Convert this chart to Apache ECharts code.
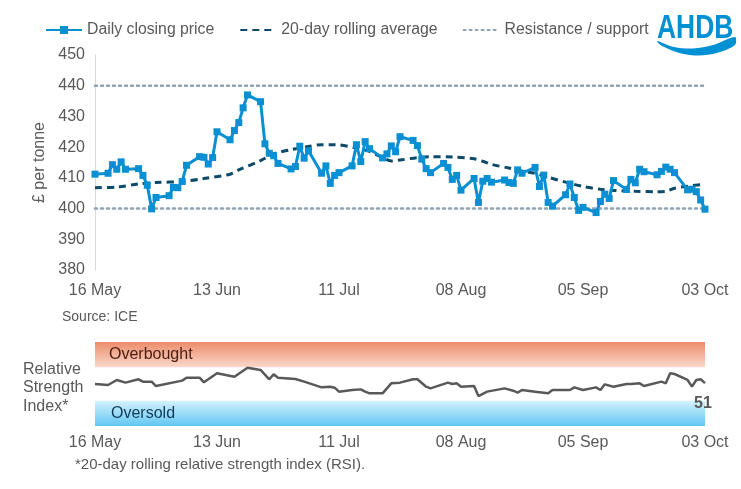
<!DOCTYPE html>
<html>
<head>
<meta charset="utf-8">
<script src="https://cdn.jsdelivr.net/npm/echarts@6/dist/echarts.min.js"></script>
<style>
html,body{margin:0;padding:0;background:#fff;}
#c{width:741px;height:489px;}
</style>
</head>
<body>
<div id="c"></div>
<script>
const YEAR = 2025;
const startDate = '05-16';
const tickLabels = ['16 May', '13 Jun', '11 Jul', '08 Aug', '05 Sep', '03 Oct'];

const priceDates = [
'05-16',
'05-19','05-20','05-21','05-22','05-23',
'05-26','05-27','05-28','05-29','05-30',
'06-02','06-03','06-04','06-05','06-06',
'06-09','06-10','06-11','06-12','06-13',
'06-16','06-17','06-18','06-19','06-20',
'06-23','06-24','06-25','06-26','06-27',
'06-30','07-01','07-02','07-03','07-04',
'07-07','07-08','07-09','07-10','07-11',
'07-14','07-15','07-16','07-17','07-18',
'07-21','07-22','07-23','07-24','07-25',
'07-28','07-29','07-30','07-31','08-01',
'08-04','08-05','08-06','08-07','08-08',
'08-11','08-12','08-13','08-14','08-15',
'08-18','08-19','08-20','08-21','08-22',
'08-25','08-26','08-27','08-28','08-29',
'09-01','09-02','09-03','09-04','09-05',
'09-08','09-09','09-10','09-11','09-12',
'09-15','09-16','09-17','09-18','09-19',
'09-22','09-23','09-24','09-25','09-26',
'09-29','09-30','10-01','10-02','10-03'
];
const prices = [
411.2,
411.5,414.3,412.8,415.2,412.8,
413.0,410.8,407.6,399.9,403.6,
404.2,406.9,406.8,408.8,414.1,
416.9,416.7,414.5,416.6,425.0,
422.4,425.4,428.0,432.8,437.0,
434.8,421.1,418.0,417.2,414.7,
412.9,413.7,420.3,416.4,418.8,
411.5,413.9,408.2,410.8,411.7,
413.9,420.8,415.3,421.8,419.5,
416.5,417.8,420.4,418.5,423.4,
422.2,420.5,416.1,413.0,411.7,
414.7,413.4,409.5,410.8,406.0,
409.8,402.0,408.9,409.8,408.6,
409.3,408.5,408.2,412.6,411.5,
413.4,407.2,410.9,402.0,400.8,
404.5,408.0,403.6,399.4,400.4,
398.7,402.3,404.7,403.3,409.1,
406.2,409.5,408.4,412.8,412.0,
411.0,412.1,413.5,412.8,411.7,
406.1,406.3,405.5,402.8,399.8
];

const avgDates = ['05-16','05-21','05-26','05-30','06-05','06-10','06-16','06-18','06-23','06-26','06-30','07-04','07-07','07-10','07-15','07-18','07-21','07-23','07-25','07-29','08-01','08-06','08-11','08-13','08-15','08-19','08-22','08-25','08-28','09-01','09-05','09-09','09-12','09-17','09-22','09-24','09-26','09-29','10-03'];
const avgValues = [406.8,407.0,408.0,408.5,408.8,409.8,411.2,412.6,415.6,417.8,419.2,420.2,420.8,420.8,419.7,418.6,416.6,415.5,415.8,416.6,416.9,416.8,416.2,415.4,414.4,413.2,412.2,411.5,410.2,408.6,407.2,406.3,405.9,405.6,405.5,405.6,406.6,407.3,407.9];

const resistance = 440;
const support = 400;

const rsiDates = ['05-16','05-19','05-21','05-23','05-26','05-27','05-29','05-30','06-05','06-06','06-09','06-10','06-13','06-17','06-20','06-23','06-25','06-26','06-27','07-01','07-03','07-07','07-09','07-10','07-11','07-14','07-16','07-17','07-18','07-21','07-23','07-25','07-28','07-29','07-31','08-01','08-05','08-06','08-07','08-08','08-11','08-12','08-14','08-18','08-20','08-21','08-22','08-25','08-28','08-29','09-02','09-03','09-05','09-08','09-09','09-10','09-12','09-15','09-16','09-18','09-19','09-23','09-24','09-25','09-26','09-29','09-30','10-01','10-02','10-03'];
const rsiValues = [50.0,48.8,54.8,51.6,55.6,52.8,52.8,47.6,54.0,57.5,57.5,52.0,62.7,58.7,69.4,66.7,55.6,61.5,57.5,56.0,52.8,46.0,46.8,45.6,40.9,42.8,43.6,40.9,38.9,38.9,50.8,51.6,55.6,55.6,46.8,44.8,51.6,50.0,50.8,46.8,47.6,35.7,40.9,44.8,42.0,39.7,42.8,40.9,38.9,42.8,42.8,46.0,42.8,46.0,42.8,49.6,46.8,50.0,50.0,50.8,47.6,52.8,50.8,62.7,61.9,54.8,46.8,54.8,55.6,51.0];
const overbought = [70, 100];
const oversold = [0, 30];

function dayOf(md) {
  const [m, d] = md.split('-').map(Number);
  const [m0, d0] = startDate.split('-').map(Number);
  return Math.round((Date.UTC(YEAR, m - 1, d) - Date.UTC(YEAR, m0 - 1, d0)) / 86400000);
}
const pair = (dates, vals) => dates.map((d, i) => [dayOf(d), vals[i]]);
const lastDay = dayOf('10-03');

const FONT = "'Liberation Sans', Arial, sans-serif";
const GREY = '#595959';
const grad = (top, bottom) => ({type: 'linear', x: 0, y: 0, x2: 0, y2: 1,
  colorStops: [{offset: 0, color: top}, {offset: 1, color: bottom}]});

const chart = echarts.init(document.getElementById('c'));
function xAxisFor(gi, margin) {
  return {
    gridIndex: gi, type: 'value', min: 0, max: lastDay, interval: 28,
    axisLine: {show: false}, axisTick: {show: false}, splitLine: {show: false},
    axisLabel: {color: GREY, fontSize: 16, fontFamily: FONT, margin: margin,
      formatter: v => tickLabels[Math.round(v / 28)] || ''}
  };
}
const rsiData = pair(rsiDates, rsiValues);
const lastRsi = rsiData[rsiData.length - 1];

chart.setOption({
  animation: false,
  textStyle: {fontFamily: FONT},
  legend: {
    left: 45, top: 22, padding: 0, itemWidth: 36, itemHeight: 10, itemGap: 25,
    textStyle: {color: GREY, fontSize: 15.8, fontFamily: FONT},
    data: [
      {name: 'Daily closing price'},
      {name: '20-day rolling average', itemStyle: {opacity: 0}},
      {name: 'Resistance / support', itemStyle: {opacity: 0}}
    ]
  },
  grid: [
    {left: 95, right: 36, top: 55, height: 215},
    {left: 95, right: 36, top: 342, height: 84}
  ],
  xAxis: [xAxisFor(0, 13), xAxisFor(1, 9)],
  yAxis: [
    {gridIndex: 0, type: 'value', min: 380, max: 450, interval: 10,
     name: '£ per tonne', nameLocation: 'middle', nameGap: 45,
     nameTextStyle: {color: GREY, fontSize: 16, fontFamily: FONT},
     axisLine: {show: true, lineStyle: {color: '#D9D9D9', width: 1}},
     axisTick: {show: false}, splitLine: {show: false},
     axisLabel: {color: GREY, fontSize: 16, fontFamily: FONT, margin: 10}},
    {gridIndex: 1, type: 'value', min: 0, max: 100, show: false, splitLine: {show: false}}
  ],
  series: [
    {name: 'Resistance / support', type: 'line', xAxisIndex: 0, yAxisIndex: 0,
     data: [[0, resistance], [lastDay, resistance]], symbol: 'none', silent: true,
     lineStyle: {color: '#8EA4B2', width: 2.5, type: [2, 4], cap: 'round'}, itemStyle: {color: '#8EA4B2'}},
    {name: 'Resistance / support', type: 'line', xAxisIndex: 0, yAxisIndex: 0,
     data: [[0, support], [lastDay, support]], symbol: 'none', silent: true,
     lineStyle: {color: '#8EA4B2', width: 2.5, type: [2, 4], cap: 'round'}, itemStyle: {color: '#8EA4B2'}},
    {name: '20-day rolling average', type: 'line', xAxisIndex: 0, yAxisIndex: 0,
     data: pair(avgDates, avgValues), symbol: 'none', smooth: 0.3,
     lineStyle: {color: '#0C4A6A', width: 3, type: [7, 5]}, itemStyle: {color: '#0C4A6A'}},
    {name: 'Daily closing price', type: 'line', xAxisIndex: 0, yAxisIndex: 0,
     data: pair(priceDates, prices), symbol: 'rect', symbolSize: 7,
     lineStyle: {color: '#0A8FD2', width: 3}, itemStyle: {color: '#0A8FD2'}},
    {name: 'RSI', type: 'line', xAxisIndex: 1, yAxisIndex: 1,
     data: rsiData, symbol: 'none',
     lineStyle: {color: '#595959', width: 2.5}, itemStyle: {color: '#595959'},
     markPoint: {silent: true, symbol: 'circle', symbolSize: 0,
       data: [{coord: lastRsi, value: Math.round(lastRsi[1])}],
       label: {show: true, position: 'bottom', distance: 12, offset: [-2, 0], color: GREY,
         fontWeight: 'bold', fontSize: 16, fontFamily: FONT}},
     markArea: {silent: true, data: [
       [{yAxis: overbought[0], xAxis: 0,
         itemStyle: {color: grad('#EC8C6B', '#FAD9CB')},
         label: {show: true, position: 'insideLeft', distance: 14, formatter: 'Overbought', color: '#4A1C0C', fontSize: 16, fontFamily: FONT}},
        {yAxis: overbought[1], xAxis: lastDay}],
       [{yAxis: oversold[0], xAxis: 0,
         itemStyle: {color: grad('#D4F1FC', '#62C7F3')},
         label: {show: true, position: 'insideLeft', distance: 16, formatter: 'Oversold', color: '#0D3A58', fontSize: 16, fontFamily: FONT}},
        {yAxis: oversold[1], xAxis: lastDay}]
     ]}}
  ],
  graphic: [
    {type: 'text', left: 62, top: 310, style: {text: 'Source: ICE', fill: GREY, font: '14px ' + FONT}},
    {type: 'text', left: 23, top: 360, style: {text: 'Relative\nStrength\nIndex*', fill: GREY, font: '16px ' + FONT, lineHeight: 18.5}},
    {type: 'text', left: 75, top: 457, style: {text: '*20-day rolling relative strength index (RSI).', fill: GREY, font: '15px ' + FONT}},
    {type: 'text', x: 657, y: 12, scaleX: 0.8, style: {text: 'AHDB', fill: '#0090D4', font: 'bold 33px ' + FONT}},
    {type: 'polygon', shape: {smooth: 0.3, points: [[657,41],[674,47],[693,48.5],[713,45],[735,37],[735,45],[717,53],[699,55.5],[681,53.4],[662,46]]}, style: {fill: '#0090D4'}}
  ]
});
</script>
</body>
</html>
